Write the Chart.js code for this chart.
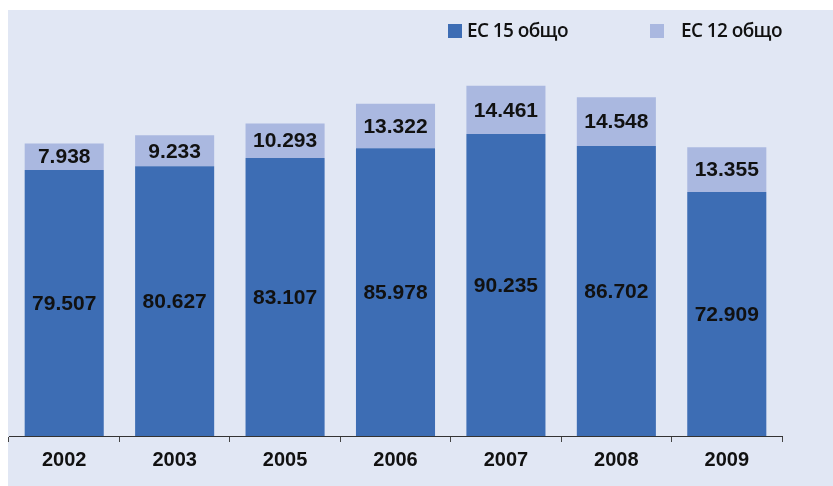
<html>
<head>
<title>EC 15 / EC 12</title>
<script src="https://cdn.jsdelivr.net/npm/chart.js@4.4.1/dist/chart.umd.min.js"></script>
<style>
  body { margin:0; background:#fff; }
  #panel { position:absolute; left:8px; top:10px; width:825px; height:476px; background:#e1e7f4; }
  #wrap { position:absolute; left:0; top:0; width:833px; height:486px; }
  .lg { position:absolute; top:17px; font-family:"Open Sans", sans-serif; font-weight:600; font-size:19px; color:#111; letter-spacing:-0.6px; }
  .lg span { display:inline-block; width:14px; height:14px; vertical-align:-1px; margin-right:5px; }
</style>
</head>
<body>
<div id="panel"></div>
<div id="wrap"><canvas id="bars" width="833" height="486"></canvas></div>
<div class="lg" style="left:448px;"><span style="background:#3d6db4"></span>ЕС 15 общо</div>
<div class="lg" style="left:650px;"><span style="background:#aab8e0;margin-right:17px"></span>ЕС 12 общо</div>

<script>
var years = ['2002', '2003', '2005', '2006', '2007', '2008', '2009'];
var ec15 = [79.507, 80.627, 83.107, 85.978, 90.235, 86.702, 72.909];
var ec12 = [7.938, 9.233, 10.293, 13.322, 14.461, 14.548, 13.355];

// draws the value in the middle of each bar segment
var inLabels = {
  id: 'inLabels',
  afterDatasetsDraw: function(chart) {
    var ctx = chart.ctx;
    ctx.save();
    ctx.font = 'bold 21px "Liberation Sans", Arial, sans-serif';
    ctx.fillStyle = '#111';
    ctx.textAlign = 'center';
    ctx.textBaseline = 'middle';
    chart.data.datasets.forEach(function(ds, i) {
      chart.getDatasetMeta(i).data.forEach(function(bar, j) {
        var mid = (bar.y + bar.base) / 2;
        ctx.fillText(ds.data[j].toFixed(3), bar.x, mid + 1);
      });
    });
    ctx.restore();
  }
};

new Chart(document.getElementById('bars'), {
  type: 'bar',
  data: {
    labels: years,
    datasets: [
      { label: 'ЕС 15 общо', data: ec15, backgroundColor: '#3d6db4' },
      { label: 'ЕС 12 общо', data: ec12, backgroundColor: '#aab8e0' }
    ]
  },
  options: {
    responsive: false,
    animation: false,
    layout: { padding: { left: 9, right: 51, top: 60, bottom: 0 } },
    plugins: { legend: { display: false }, tooltip: { enabled: false } },
    datasets: { bar: { categoryPercentage: 1, barPercentage: 0.716 } },
    scales: {
      x: {
        stacked: true,
        grid: { offset: true, drawOnChartArea: false, tickLength: 6, color: '#444' },
        border: { color: '#333', width: 1 },
        ticks: { color: '#111', padding: 6, font: { family: '"Liberation Sans", Arial, sans-serif', size: 20, weight: 'bold' } },
        afterFit: function(s) { s.height = 50; }
      },
      y: {
        stacked: true,
        display: false,
        min: 0,
        max: 112.37
      }
    }
  },
  plugins: [inLabels]
});
</script>
</body>
</html>
